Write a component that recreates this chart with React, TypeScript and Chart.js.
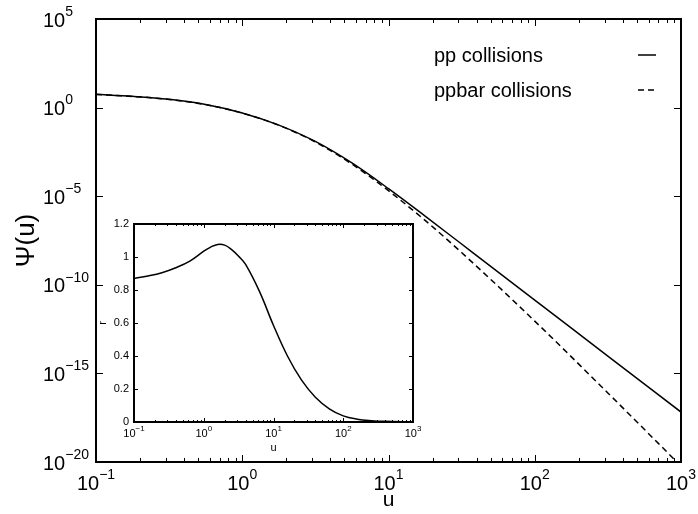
import React, { useEffect, useRef } from "react";
import { Chart, registerables } from "chart.js";

Chart.register(...registerables);

// ---------- data ----------
const uMain = [0.1, 0.178, 0.316, 0.562, 1, 1.78, 3.16, 5.62, 10, 17.8, 31.6, 100, 316, 1000];
const psiPP = [5.62, 4.34, 2.94, 1.5, 0.501, 0.103, 0.0123, 7.5e-4, 2.66e-5, 7.5e-7, 2.0e-8, 1.38e-11, 9.5e-15, 6.6e-18];
const psiPPbar = [5.5, 4.27, 2.88, 1.47, 0.49, 0.1, 0.0115, 6.5e-4, 2.04e-5, 4.3e-7, 6.6e-9, 8.9e-13, 7.9e-17, 5.9e-21];

const uInset = [0.1, 0.158, 0.251, 0.398, 0.631, 1, 1.259, 1.585, 1.995, 2.512, 3.162, 3.981, 6.31, 10, 15.85, 25.12, 39.81, 63.1, 100, 158.5, 251.2, 398.1, 1000];
const rInset = [0.87, 0.885, 0.905, 0.935, 0.975, 1.035, 1.06, 1.076, 1.072, 1.045, 1.005, 0.955, 0.79, 0.585, 0.4, 0.255, 0.15, 0.08, 0.037, 0.017, 0.008, 0.004, 0.001];

const xTicks = [0.1, 1, 10, 100, 1000];
const xTickExps = ["−1", "0", "1", "2", "3"];
const yTicks = [1e5, 1, 1e-5, 1e-10, 1e-15, 1e-20];
const yTickExps = ["5", "0", "−5", "−10", "−15", "−20"];
const insetYTicks = [0, 0.2, 0.4, 0.6, 0.8, 1, 1.2];
const insetYLabels = ["0", "0.2", "0.4", "0.6", "0.8", "1", "1.2"];

const seriesLabels = ["pp collisions", "ppbar collisions"];

const FONT = "'Liberation Sans', Arial, Helvetica, sans-serif";

function minorLogTicks(min: number, max: number): number[] {
  const out: number[] = [];
  for (let d = min; d < max; d *= 10) {
    for (let k = 2; k <= 9; k++) out.push(d * k);
  }
  return out;
}

function drawPow(ctx: CanvasRenderingContext2D, exp: string, x: number, y: number, big: number, small: number, align: "left" | "center", raise: number) {
  ctx.font = `${big}px ${FONT}`;
  const w1 = ctx.measureText("10").width;
  ctx.font = `${small}px ${FONT}`;
  const w2 = ctx.measureText(exp).width;
  const start = align === "left" ? x : x - (w1 + w2) / 2;
  ctx.textAlign = "left";
  ctx.textBaseline = "middle";
  ctx.font = `${big}px ${FONT}`;
  ctx.fillText("10", start, y);
  ctx.font = `${small}px ${FONT}`;
  ctx.fillText(exp, start + w1, y - raise);
}

const mainDecor = {
  id: "mainDecor",
  afterDraw(chart: any) {
    const { ctx, chartArea: a } = chart;
    const x = chart.scales.x;
    const y = chart.scales.y;
    ctx.save();
    ctx.strokeStyle = "#000";
    ctx.fillStyle = "#000";
    ctx.lineWidth = 1;
    ctx.beginPath();
    xTicks.forEach((v) => {
      const px = Math.round(x.getPixelForValue(v)) + 0.5;
      ctx.moveTo(px, a.bottom); ctx.lineTo(px, a.bottom - 7);
      ctx.moveTo(px, a.top); ctx.lineTo(px, a.top + 7);
    });
    minorLogTicks(0.1, 1000).forEach((v) => {
      const px = Math.round(x.getPixelForValue(v)) + 0.5;
      ctx.moveTo(px, a.bottom); ctx.lineTo(px, a.bottom - 4);
      ctx.moveTo(px, a.top); ctx.lineTo(px, a.top + 4);
    });
    yTicks.forEach((v) => {
      const py = Math.round(y.getPixelForValue(v)) + 0.5;
      ctx.moveTo(a.left, py); ctx.lineTo(a.left + 7, py);
      ctx.moveTo(a.right, py); ctx.lineTo(a.right - 7, py);
    });
    ctx.stroke();
    ctx.lineWidth = 2;
    ctx.strokeRect(a.left, a.top, a.right - a.left, a.bottom - a.top);

    // tick labels
    yTicks.forEach((v, i) => {
      const py = y.getPixelForValue(v);
      drawPow(ctx, yTickExps[i], 43, py + 2, 20, 14, "left", 9);
    });
    xTicks.forEach((v, i) => {
      const px = x.getPixelForValue(v);
      drawPow(ctx, xTickExps[i], px, a.bottom + 22, 20, 14, "center", 9);
    });

    // axis titles
    ctx.textAlign = "center";
    ctx.textBaseline = "middle";
    ctx.font = `21px ${FONT}`;
    ctx.fillText("u", (a.left + a.right) / 2, 500);
    ctx.save();
    ctx.translate(27, (a.top + a.bottom) / 2);
    ctx.rotate(-Math.PI / 2);
    ctx.font = `26px ${FONT}`;
    ctx.fillText("Ψ(u)", 0, 0);
    ctx.restore();

    // legend
    const rows = [56, 91];
    chart.data.datasets.forEach((ds: any, i: number) => {
      ctx.textAlign = "left";
      ctx.textBaseline = "middle";
      ctx.font = `20px ${FONT}`;
      ctx.fillText(ds.label, 434, rows[i]);
      ctx.lineWidth = 1.5;
      ctx.setLineDash(ds.borderDash || []);
      ctx.beginPath();
      ctx.moveTo(638, rows[i] - 1);
      ctx.lineTo(656, rows[i] - 1);
      ctx.stroke();
      ctx.setLineDash([]);
    });
    ctx.restore();
  },
};

const insetDecor = {
  id: "insetDecor",
  beforeDatasetsDraw(chart: any) {
    const { ctx, chartArea: a } = chart;
    ctx.save();
    ctx.fillStyle = "#fff";
    ctx.fillRect(a.left, a.top, a.right - a.left, a.bottom - a.top);
    ctx.restore();
  },
  afterDraw(chart: any) {
    const { ctx, chartArea: a } = chart;
    const x = chart.scales.x;
    const y = chart.scales.y;
    ctx.save();
    ctx.strokeStyle = "#000";
    ctx.fillStyle = "#000";
    ctx.lineWidth = 1;
    ctx.beginPath();
    xTicks.forEach((v) => {
      const px = Math.round(x.getPixelForValue(v)) + 0.5;
      ctx.moveTo(px, a.bottom); ctx.lineTo(px, a.bottom - 4);
      ctx.moveTo(px, a.top); ctx.lineTo(px, a.top + 4);
    });
    minorLogTicks(0.1, 1000).forEach((v) => {
      const px = Math.round(x.getPixelForValue(v)) + 0.5;
      ctx.moveTo(px, a.bottom); ctx.lineTo(px, a.bottom - 2);
      ctx.moveTo(px, a.top); ctx.lineTo(px, a.top + 2);
    });
    insetYTicks.forEach((v) => {
      const py = Math.round(y.getPixelForValue(v)) + 0.5;
      ctx.moveTo(a.left, py); ctx.lineTo(a.left + 4, py);
      ctx.moveTo(a.right, py); ctx.lineTo(a.right - 4, py);
    });
    ctx.stroke();
    ctx.lineWidth = 2;
    ctx.strokeRect(a.left, a.top, a.right - a.left, a.bottom - a.top);

    ctx.textAlign = "right";
    ctx.textBaseline = "middle";
    ctx.font = `11px ${FONT}`;
    insetYTicks.forEach((v, i) => {
      ctx.fillText(insetYLabels[i], a.left - 5, y.getPixelForValue(v));
    });
    xTicks.forEach((v, i) => {
      drawPow(ctx, xTickExps[i], x.getPixelForValue(v), a.bottom + 12, 11, 8, "center", 5);
    });
    ctx.textAlign = "center";
    ctx.font = `11px ${FONT}`;
    ctx.fillText("u", (a.left + a.right) / 2, a.bottom + 26);
    ctx.save();
    ctx.translate(a.left - 31, (a.top + a.bottom) / 2);
    ctx.rotate(-Math.PI / 2);
    ctx.fillText("r", 0, 0);
    ctx.restore();
    ctx.restore();
  },
};

export default function App() {
  const mainRef = useRef<HTMLCanvasElement>(null);
  const insetRef = useRef<HTMLCanvasElement>(null);

  useEffect(() => {
    const main = new Chart(mainRef.current!, {
      type: "line",
      data: {
        datasets: [
          {
            label: seriesLabels[0],
            data: uMain.map((u, i) => ({ x: u, y: psiPP[i] })),
            borderColor: "#000",
            borderWidth: 1.5,
            pointRadius: 0,
            cubicInterpolationMode: "monotone",
            fill: false,
          },
          {
            label: seriesLabels[1],
            data: uMain.map((u, i) => ({ x: u, y: psiPPbar[i] })),
            borderColor: "#000",
            borderWidth: 1.5,
            borderDash: [6, 4],
            pointRadius: 0,
            cubicInterpolationMode: "monotone",
            fill: false,
          },
        ],
      },
      options: {
        responsive: false,
        animation: false,
        devicePixelRatio: 1,
        layout: { padding: { left: 96, top: 19, right: 17, bottom: 52 } },
        plugins: { legend: { display: false }, tooltip: { enabled: false } },
        scales: {
          x: { type: "logarithmic", min: 0.1, max: 1000, display: false },
          y: { type: "logarithmic", min: 1e-20, max: 1e5, display: false },
        },
      },
      plugins: [mainDecor],
    } as any);

    const inset = new Chart(insetRef.current!, {
      type: "line",
      data: {
        datasets: [
          {
            label: "r",
            data: uInset.map((u, i) => ({ x: u, y: rInset[i] })),
            borderColor: "#000",
            borderWidth: 1.5,
            pointRadius: 0,
            tension: 0.4,
            fill: false,
          },
        ],
      },
      options: {
        responsive: false,
        animation: false,
        devicePixelRatio: 1,
        layout: { padding: { left: 44, top: 19, right: 12, bottom: 38 } },
        plugins: { legend: { display: false }, tooltip: { enabled: false } },
        scales: {
          x: { type: "logarithmic", min: 0.1, max: 1000, display: false },
          y: { type: "linear", min: 0, max: 1.2, display: false },
        },
      },
      plugins: [insetDecor],
    } as any);

    return () => {
      main.destroy();
      inset.destroy();
    };
  }, []);

  return (
    <div style={{ position: "absolute", left: 0, top: 0, width: 698, height: 514, background: "#fff" }}>
      <canvas ref={mainRef} width={698} height={514} style={{ position: "absolute", left: 0, top: 0 }} />
      <canvas ref={insetRef} width={335} height={255} style={{ position: "absolute", left: 90, top: 205 }} />
    </div>
  );
}
